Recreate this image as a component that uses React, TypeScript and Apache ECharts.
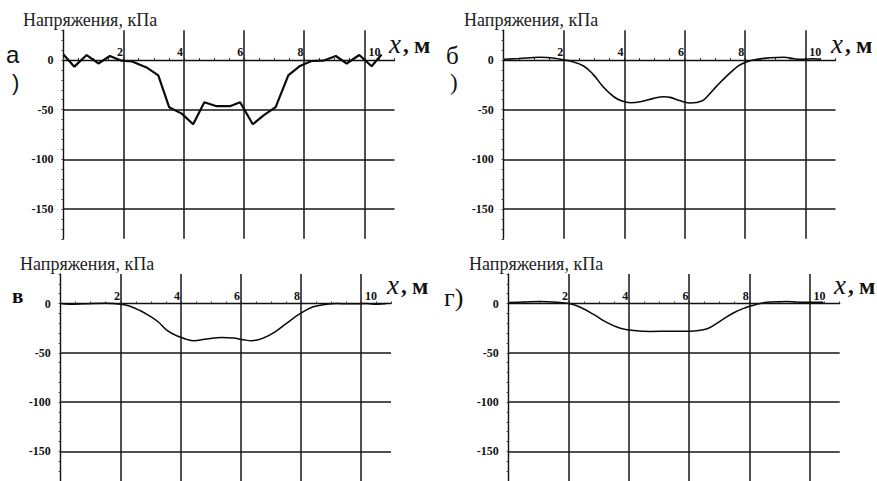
import React, { useEffect, useRef } from "react";
import * as echarts from "echarts";

// ---- data (x in m, stress in kPa) ----
const aX = [0, 0.36, 0.77, 1.16, 1.54, 1.93, 2.28, 2.76, 3.15, 3.51, 3.93, 4.31, 4.68, 5.09, 5.53, 5.87, 6.29, 6.66, 7.05, 7.47, 7.86, 8.24, 8.63, 9.05, 9.41, 9.83, 10.24, 10.57];
const aY = [5.5, -6.7, 5, -3.5, 4, -0.7, -1.5, -7.5, -15.5, -47.5, -54, -64.7, -42.5, -46.5, -46.5, -42.5, -64.7, -55.5, -47.5, -15.5, -6, -1, -0.7, 4, -3.5, 5, -6.3, 5.5];

const bX = [0, 0.5, 1.2, 1.7, 2.0, 2.21, 2.65, 2.98, 3.31, 3.65, 3.92, 4.2, 4.53, 4.97, 5.3, 5.52, 5.86, 6.19, 6.57, 6.8, 7.07, 7.4, 7.79, 8.07, 8.29, 8.84, 9.28, 9.67, 9.94, 10.28, 10.5];
const bY = [0.7, 1.5, 2.7, 1.8, 0, -1, -6, -15, -27.5, -37, -41.3, -43, -42, -38.6, -37, -37.6, -41, -43.3, -41.3, -35, -26, -16, -5.7, -1.7, 0, 2.3, 2.7, 1, 0.7, 1.3, 0.7];

const cX = [0, 0.3, 0.8, 1.5, 2.0, 2.31, 2.64, 2.97, 3.25, 3.53, 3.86, 4.2, 4.42, 4.86, 5.36, 5.75, 6.08, 6.36, 6.75, 7.14, 7.52, 7.97, 8.41, 8.86, 9.19, 9.63, 10.19, 10.52, 10.85];
const cY = [0, -0.7, -0.3, 0.3, -0.7, -2.7, -7, -12.7, -18.7, -27, -32.7, -36.3, -37.7, -36, -34.3, -35, -36.7, -37.7, -35, -28.7, -20, -10.3, -3.3, -0.7, 0, -0.3, 0, -0.7, 0];

const dX = [0, 0.5, 1.05, 1.6, 2.0, 2.38, 2.82, 3.27, 3.71, 4.15, 4.71, 5.37, 6.0, 6.37, 6.64, 7.03, 7.48, 7.86, 8.14, 8.36, 8.69, 9.25, 9.8, 10.46];
const dY = [1, 1.5, 2, 1.3, 0, -3.7, -11, -19.3, -25, -27.3, -28.3, -28, -28, -27, -25, -17.7, -9.3, -4.3, -1.7, 0, 1.7, 2, 1.3, 1.3];

const xTickLabels = [2, 4, 6, 8, 10];
const yTickLabels = [0, -50, -100, -150];
const xGridLines = [2, 4, 6, 8, 10];
const yGridLines = [-150, -100, -50];
const yTitle = "Напряжения, кПа";

const SERIF = "Liberation Serif";
const SANS = "Liberation Sans";

export default function App() {
  const ref = useRef<HTMLDivElement>(null);
  useEffect(() => {
    if (!ref.current) return;
    const chart = echarts.init(ref.current, undefined, { renderer: "svg" });

    const grids = [
      { left: 63.5, top: 30.2, width: 331, height: 208.6 },
      { left: 503.7, top: 30.2, width: 331.8, height: 208.6 },
      { left: 60.7, top: 274, width: 330.3, height: 209.6 },
      { left: 508.7, top: 274, width: 331, height: 209.6 },
    ];
    const datasets = [
      { x: aX, y: aY, w: 2.2, smooth: false },
      { x: bX, y: bY, w: 1.6, smooth: 0.4 },
      { x: cX, y: cY, w: 1.5, smooth: 0.4 },
      { x: dX, y: dY, w: 1.5, smooth: 0.4 },
    ];

    const xAxes = grids.map((_, i) => ({
      type: "value",
      gridIndex: i,
      min: 0,
      max: 11,
      interval: 0.5,
      axisLine: { onZero: true, lineStyle: { color: "#111", width: 1.4 } },
      axisTick: { show: true, inside: true, length: 2, lineStyle: { color: "#333", width: 1 } },
      axisLabel: { show: false },
      splitLine: { show: false },
    }));

    const yAxes = grids.map((_, i) => ({
      type: "value",
      gridIndex: i,
      min: -180,
      max: 30,
      interval: 10,
      axisLine: { onZero: false, lineStyle: { color: "#111", width: 1.4 } },
      axisTick: { show: true, length: 2, lineStyle: { color: "#333", width: 1 } },
      axisLabel: {
        margin: 10,
        color: "#111",
        fontFamily: SERIF,
        fontSize: 12,
        fontWeight: "bold",
        formatter: (v: number) => (yTickLabels.includes(v) ? String(v) : ""),
      },
      splitLine: { show: false },
    }));

    const series: any[] = [];
    datasets.forEach((d, i) => {
      series.push({
        type: "line",
        xAxisIndex: i,
        yAxisIndex: i,
        data: [],
        z: 1,
        silent: true,
        markLine: {
          silent: true,
          symbol: "none",
          label: { show: false },
          lineStyle: { color: "#161616", width: 1.5, type: "solid" },
          data: [
            ...xGridLines.map((v) => ({ xAxis: v })),
            ...yGridLines.map((v) => ({ yAxis: v })),
          ],
        },
        markPoint: {
          silent: true,
          symbol: "circle",
          symbolSize: 0,
          itemStyle: { color: "transparent" },
          label: {
            show: true,
            position: "top",
            distance: 2,
            color: "#111",
            fontFamily: SERIF,
            fontWeight: "bold",
            fontSize: 12,
            formatter: (p: any) => String(p.value),
          },
          data: xTickLabels.map((v) => ({
            coord: [v, 0],
            value: v,
            label: { offset: [v === 10 ? 10 : -3.8, 0] },
          })),
        },
      });
      series.push({
        type: "line",
        xAxisIndex: i,
        yAxisIndex: i,
        z: 5,
        smooth: d.smooth,
        showSymbol: false,
        symbol: "none",
        lineStyle: { color: "#0a0a0a", width: d.w },
        data: d.x.map((x, k) => [x, d.y[k]]),
      });
    });

    const titlePos = [
      [23, 20],
      [464, 20],
      [20, 264],
      [469, 264],
    ];
    const xLabelPos = [
      [389, 44],
      [831, 44],
      [387, 285],
      [834, 285],
    ];
    const graphics: any[] = [];
    const txt = (x: number, y: number, text: string, family: string, size: number, weight = "normal", style = "normal", fill = "#111") =>
      graphics.push({
        type: "text",
        x,
        y,
        style: { text, fontFamily: family, fontSize: size, fontWeight: weight, fontStyle: style, fill, verticalAlign: "middle" },
      });
    titlePos.forEach(([x, y]) => txt(x, y, yTitle, SERIF, 18, "normal", "normal", "#222"));
    xLabelPos.forEach(([x, y]) => {
      txt(x, y, "x", SERIF, 27, "normal", "italic");
      txt(x + 14, y, ",", SERIF, 23, "bold");
      txt(x + 25, y + 1, "м", SERIF, 24, "bold");
    });
    txt(6, 54, "а", SANS, 24);
    txt(12, 82, ")", SANS, 22);
    txt(446, 55, "б", SERIF, 25);
    txt(450, 82, ")", SERIF, 23);
    txt(12, 296, "в", SERIF, 21, "bold");
    txt(444, 297, "г)", SERIF, 26);

    chart.setOption({
      animation: false,
      backgroundColor: "#fff",
      grid: grids.map((g) => ({ ...g, containLabel: false })),
      xAxis: xAxes,
      yAxis: yAxes,
      series,
      graphic: graphics,
    });
    return () => chart.dispose();
  }, []);
  return (
    <div
      ref={ref}
      style={{ position: "absolute", left: 0, top: 0, width: 877, height: 481, background: "#fff" }}
    />
  );
}
